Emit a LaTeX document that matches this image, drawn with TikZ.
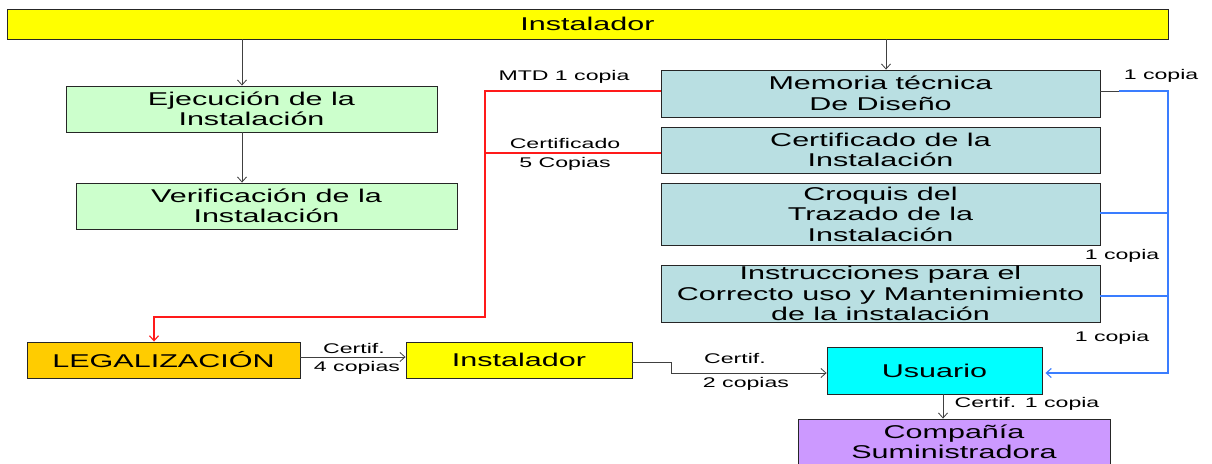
\documentclass[tikz,border=0pt]{standalone}
\usepackage{fontspec}
\setmainfont{Liberation Sans}[FakeStretch=1.65]
\usetikzlibrary{arrows.meta}
\definecolor{cyel}{HTML}{FFFF00}
\definecolor{cgrn}{HTML}{CCFFCC}
\definecolor{cteal}{HTML}{B9DFE2}
\definecolor{corg}{HTML}{FFCC00}
\definecolor{ccyan}{HTML}{00FFFF}
\definecolor{cvio}{HTML}{CC99FF}
\definecolor{cblue}{HTML}{3A7DFF}
\definecolor{cred}{HTML}{FF1A1A}
\definecolor{cline}{HTML}{404040}
\newcommand{\boxfont}{\fontsize{18.5}{20.5}\selectfont}
\newcommand{\lblfont}{\fontsize{14}{16}\selectfont}
\tikzset{
  box/.style={draw=black!85, line width=0.9pt, align=center, font=\boxfont, inner sep=0pt},
  lbl/.style={font=\lblfont, inner sep=0pt, align=center},
  arr/.style={-{Straight Barb[length=5pt,width=9pt]}},
  conn/.style={color=cline, line width=0.8pt},
  redl/.style={color=cred, line width=1.1pt},
  bluel/.style={color=cblue, line width=1.1pt},
}
\begin{document}
\begin{tikzpicture}[x=1pt,y=-1pt]
\clip (0,0) rectangle (1212,463);
% boxes
\node[box, fill=cyel, minimum width=1161pt, minimum height=30pt] (top) at (587.5,24) {Instalador};
\node[box, fill=cgrn, minimum width=371pt, minimum height=46pt] (ejec) at (251.5,109) {Ejecución de la\\Instalación};
\node[box, fill=cgrn, minimum width=381pt, minimum height=46pt] (verif) at (266.5,206) {Verificación de la\\Instalación};
\node[box, fill=cteal, minimum width=439pt, minimum height=47pt] (memo) at (880.5,93.5) {Memoria técnica\\De Diseño};
\node[box, fill=cteal, minimum width=439pt, minimum height=46pt] (cert) at (880.5,150) {Certificado de la\\Instalación};
\node[box, fill=cteal, minimum width=439pt, minimum height=62pt] (croq) at (880.5,214) {Croquis del\\Trazado de la\\Instalación};
\node[box, fill=cteal, minimum width=439pt, minimum height=57pt] (instr) at (880.5,293.5) {Instrucciones para el\\Correcto uso y Mantenimiento\\de la instalación};
\node[box, fill=corg, minimum width=273pt, minimum height=36pt] (legal) at (163.5,360) {LEGALIZACIÓN};
\node[box, fill=cyel, minimum width=226pt, minimum height=36pt] (inst2) at (519,360) {Instalador};
\node[box, fill=ccyan, minimum width=215pt, minimum height=47pt] (usu) at (934.5,370.5) {Usuario};
\node[box, fill=cvio, minimum width=312pt, minimum height=46pt] (comp) at (954,442) {Compañía\\Suministradora};
% labels
\node[lbl] (l1) at (564,77) {MTD 1 copia};
\node[lbl] (l2) at (565,143) {Certificado};
\node[lbl] (l3) at (565,164) {5 Copias};
\node[lbl] (l4) at (1161,76) {1 copia};
\node[lbl] (l5) at (1122,256) {1 copia};
\node[lbl] (l6) at (1112,338) {1 copia};
\node[lbl] (l7) at (354,348) {Certif.};
\node[lbl] (l8) at (357,368) {4 copias};
\node[lbl] (l9) at (735,358) {Certif.};
\node[lbl] (l10) at (746,384) {2 copias};
\node[lbl] (l11) at (1027,404) {Certif. 1 copia};
% helper coordinates
\coordinate (e1) at ([xshift=-9.5pt]ejec.north);
\coordinate (e2) at ([xshift=-9.5pt]ejec.south);
\coordinate (t2) at ([xshift=5.5pt]memo.north);
\coordinate (rx) at (485,0);
\coordinate (ry) at (0,317);
\coordinate (m1) at ([yshift=2.5pt]memo.west);
\coordinate (c1) at ([yshift=-3pt]cert.west);
\coordinate (lg) at ([xshift=-9.5pt]legal.north);
\coordinate (bx) at (1168,0);
\coordinate (mb) at ([yshift=2.5pt]memo.east);
\coordinate (mb2) at ([xshift=19pt,yshift=2.5pt]memo.east);
\coordinate (cb) at ([yshift=1pt]croq.east);
\coordinate (ib) at ([yshift=-2.5pt]instr.east);
\coordinate (ub) at ([yshift=-2.5pt]usu.east);
\coordinate (ub2) at ([yshift=-2.5pt]usu.west);
\coordinate (i2) at ([yshift=-2pt]inst2.east);
\coordinate (ux) at (671,0);
\coordinate (u1) at ([xshift=8.5pt]usu.south);
% connectors
\draw[conn, arr] (e1 |- top.south) -- (e1);
\draw[conn, arr] (e2) -- (e2 |- verif.north);
\draw[conn, arr] (t2 |- top.south) -- (t2);
\draw[redl, arr] (m1) -- (m1 -| rx) -- (rx |- ry) -- (lg |- ry) -- (lg);
\draw[redl] (c1) -- (c1 -| rx);
\draw[conn] (mb) -- (mb2);
\draw[bluel, arr] (mb2) -- (mb -| bx) -- (bx |- ub) -- ([xshift=3pt]ub);
\draw[bluel] (cb) -- (cb -| bx);
\draw[bluel] (ib) -- (ib -| bx);
\draw[conn, arr] ([yshift=3pt]legal.east) -- ([yshift=3pt]inst2.west);
\draw[conn, arr] (i2) -- (i2 -| ux) -- (ux |- ub2) -- (ub2);
\draw[conn, arr] (u1) -- (u1 |- comp.north);
\end{tikzpicture}
\end{document}
